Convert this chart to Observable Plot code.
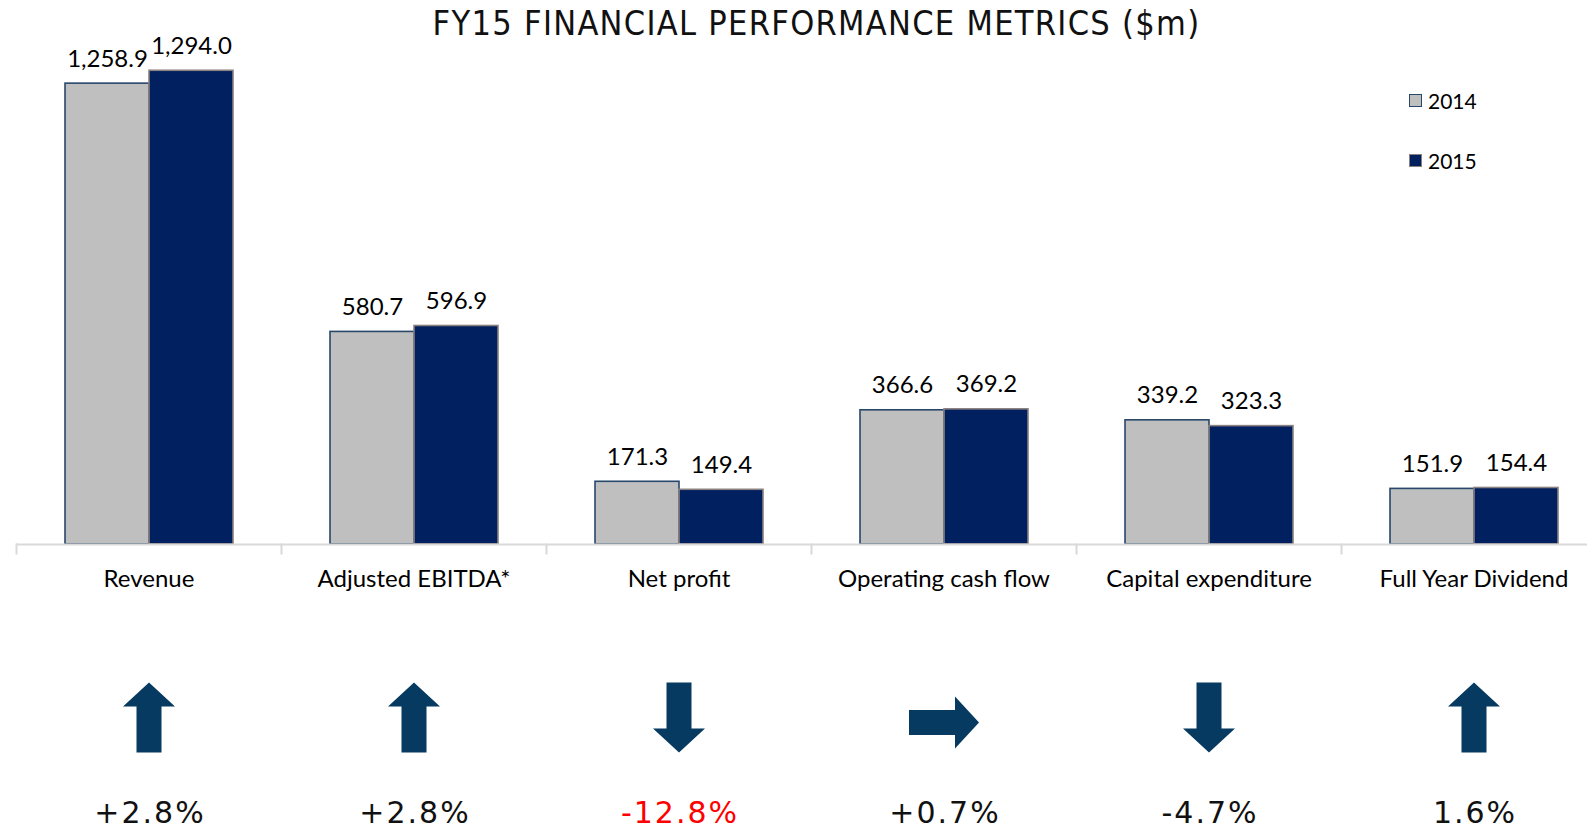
<!DOCTYPE html>
<html>
<head>
<meta charset="utf-8">
<script src="https://cdn.jsdelivr.net/npm/d3@7"></script>
<script src="https://cdn.jsdelivr.net/npm/@observablehq/plot@0.6"></script>
<style>
  html, body { margin: 0; padding: 0; background: #fff; }
  #wrap { position: relative; width: 1587px; height: 828px; overflow: hidden; background: #fff; }
  #title { position: absolute; left: 0; top: 3px; width: 1633px; text-align: center;
    font-family: "Liberation Sans Narrow", "DejaVu Sans Condensed", "Liberation Sans", sans-serif;
    font-stretch: condensed; font-size: 34px; color: #111; letter-spacing: 1.3px; white-space: nowrap; }
  #legend { position: absolute; left: 1409px; top: 86px; font-family: Lato, sans-serif; font-size: 21px; color: #000; }
  .lg { display: flex; align-items: center; height: 28px; }
  .lg + .lg { margin-top: 32px; }
  .sw { width: 11px; height: 11px; margin-right: 6px; box-sizing: content-box; }
  #chart { position: absolute; left: 0; top: 0; width: 1607px; height: 828px; }
  #chart svg { max-width: none !important; }
  #chart g[font-family^="DejaVu"] text { letter-spacing: 2px; }
</style>
</head>
<body>
<div id="wrap">
  <div id="chart"></div>
  <div id="title">FY15 FINANCIAL PERFORMANCE METRICS ($m)</div>
  <div id="legend"></div>
</div>
<script>
// ---- data ----
const categories = ["Revenue", "Adjusted EBITDA*", "Net profit", "Operating cash flow", "Capital expenditure", "Full Year Dividend"];
const years = [2014, 2015];
const values2014 = [1258.9, 580.7, 171.3, 366.6, 339.2, 151.9];
const values2015 = [1294.0, 596.9, 149.4, 369.2, 323.3, 154.4];
const changeValues = [2.8, 2.8, -12.8, 0.7, -4.7, 1.6];
const changeLabels = ["+2.8%", "+2.8%", "-12.8%", "+0.7%", "-4.7%", "1.6%"];
const directions = ["up", "up", "down", "right", "down", "up"];

// ---- styles ----
const fill2014 = "#bfbfbf", stroke2014 = "#27476b";
const fill2015 = "#002060", stroke2015 = "#8a8080";
const arrowColor = "#063a61";

const bars = categories.flatMap((c, i) => [
  {category: c, year: 2014, value: values2014[i]},
  {category: c, year: 2015, value: values2015[i]}
]);
const cats = categories.map((c, i) => ({category: c, change: changeValues[i], label: changeLabels[i], dir: directions[i]}));

// block arrow symbol, drawn in pixels around the origin
function makeArrow(dir) {
  const L = 35, headBase = -11, headHalf = 26, shaftHalf = 12.5;
  const pts = [[0, -L], [headHalf, headBase], [shaftHalf, headBase], [shaftHalf, L], [-shaftHalf, L], [-shaftHalf, headBase], [-headHalf, headBase]];
  const tr = dir === "up" ? ([x, y]) => [x, y] : dir === "down" ? ([x, y]) => [x, -y] : ([x, y]) => [-y, x];
  return {
    draw(ctx) {
      const p = pts.map(tr);
      ctx.moveTo(p[0][0], p[0][1]);
      for (let k = 1; k < p.length; ++k) ctx.lineTo(p[k][0], p[k][1]);
      ctx.closePath();
    }
  };
}

const fmt = d3.format(",.1f");
const pctFont = {fontSize: 30, fontFamily: "DejaVu Sans, sans-serif", dx: 1};

const chart = Plot.plot({
  width: 1607,
  height: 828,
  marginLeft: 15,
  marginRight: 0,
  marginTop: 0,
  marginBottom: 284,
  style: {fontFamily: "Lato, sans-serif", fontSize: "24px", color: "#000", background: "transparent", overflow: "visible", maxWidth: "none"},
  fx: {domain: categories, padding: 0, label: null},
  x: {domain: years, paddingInner: 0, paddingOuter: 0.56, axis: null},
  y: {domain: [0, 1486], axis: null},
  marks: [
    Plot.barY(bars, {filter: d => d.year === 2014, fx: "category", x: "year", y: "value", fill: fill2014, stroke: stroke2014, strokeWidth: 1.6}),
    Plot.barY(bars, {filter: d => d.year === 2015, fx: "category", x: "year", y: "value", fill: fill2015, stroke: stroke2015, strokeWidth: 1.6}),
    Plot.text(bars, {fx: "category", x: "year", y: "value", text: d => fmt(d.value), lineAnchor: "bottom", dy: -17, fontSize: 24, fill: "#000"}),
    Plot.ruleY([0], {stroke: "#d9d9d9", strokeWidth: 2}),
    Plot.frame({anchor: "left", stroke: "#d9d9d9", strokeWidth: 2, insetTop: 544, insetBottom: -9}),
    Plot.axisFx({anchor: "bottom", tickSize: 0, tickPadding: 25, fontSize: 24, label: null, fill: "#000"}),
    Plot.dot(cats, {filter: d => d.dir === "up", fx: "category", y: 0, dy: 173, symbol: makeArrow("up"), fill: arrowColor, stroke: "none", r: 10}),
    Plot.dot(cats, {filter: d => d.dir === "down", fx: "category", y: 0, dy: 173, symbol: makeArrow("down"), fill: arrowColor, stroke: "none", r: 10}),
    Plot.dot(cats, {filter: d => d.dir === "right", fx: "category", y: 0, dy: 178, symbol: makeArrow("right"), fill: arrowColor, stroke: "none", r: 10}),
    Plot.text(cats, {filter: d => d.change > -10, fx: "category", y: 0, dy: 278, lineAnchor: "bottom", text: "label", fill: "#111", ...pctFont}),
    Plot.text(cats, {filter: d => d.change <= -10, fx: "category", y: 0, dy: 278, lineAnchor: "bottom", text: "label", fill: "#ff0000", ...pctFont})
  ]
});
document.getElementById("chart").appendChild(chart);

// legend
const legend = document.getElementById("legend");
[[2014, fill2014, stroke2014], [2015, fill2015, stroke2015]].forEach(([y, f, s]) => {
  const row = document.createElement("div");
  row.className = "lg";
  const sw = document.createElement("span");
  sw.className = "sw";
  sw.style.background = f;
  sw.style.border = `1.5px solid ${s}`;
  const t = document.createElement("span");
  t.textContent = y;
  row.appendChild(sw); row.appendChild(t);
  legend.appendChild(row);
});
</script>
</body>
</html>
